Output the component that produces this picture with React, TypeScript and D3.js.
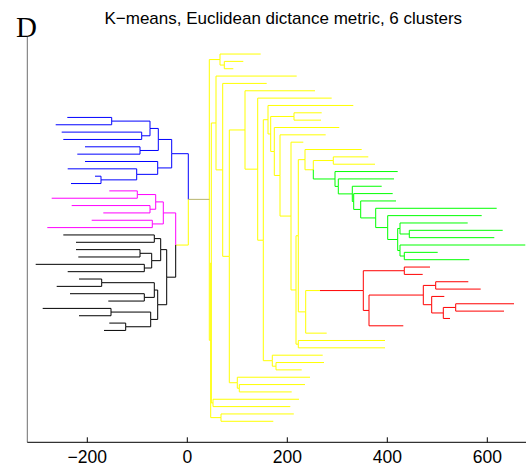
import React from "react";
import * as d3 from "d3";

const W = 526;
const H = 469;

const titleText = "K\u2212means, Euclidean dictance metric, 6 clusters";
const panelLabel = "D";
const xTicks = [-200, 0, 200, 400, 600];
const xDomain = [-320, 680];
const yDomain = [-2.32, 52.86]; // leaf rows
const LEFT_START_ROW = 8.63;

// leaf x values (in axis units), top to bottom
const yellowTopLeaves = [146.8, 112, 92, 218.8, 158.8, 255.4, 288.8, 332, 268.8, 267.4, 304, 276.8, 232, 348.8, 362, 375.4];
const greenLeaves = [420.8, 413.4, 388.8, 410.8, 417.4, 618.8, 588.8, 560.8, 630.8, 614, 676, 500.8, 564];
const redLeaves = [485.4, 470.8, 562, 586.8, 514, 653.4, 633.4, 525.4, 432];
const yellowBottomLeaves = [278.8, 395.4, 395.4, 270.8, 273.4, 228.8, 245.4, 235.4, 208.8, 223.4, 206, 213, 172];
const blueLeaves = [-240, -263.2, -251.2, -248, -204.6, -220, -204.6, -239.2, -184.6, -232.6];
const pinkLeaves = [-156, -271.2, -231.2, -168, -191.2, -280];
const blackLeaves = [-248, -222.6, -222.6, -218, -303.2, -239.2, -216.6, -261.2, -234.6, -158, -289.2, -216.6, -156, -166.6];

const COLORS: Record<string, string> = {
  Y: "#ffff00",
  G: "#00ff00",
  R: "#ff0000",
  B: "#0000ff",
  P: "#ff00ff",
  K: "#000000",
  O: "#b8b46c",
};

// internal nodes: [id, x, children, colour of the link into this node]
type NodeDef = [string, number, string[], string];
const leftNodes: NodeDef[] = [
  ["A", -151.2, ["b0", "b1"], "B"],
  ["C", -91.2, ["b2", "b3"], "B"],
  ["Bn1", -74.6, ["A", "C"], "B"],
  ["E", -94.6, ["b4", "b5"], "B"],
  ["D", -58, ["Bn1", "E"], "B"],
  ["I", -172.6, ["b8", "b9"], "B"],
  ["H", -101.2, ["b7", "I"], "B"],
  ["Gb", -59.2, ["b6", "H"], "B"],
  ["F", -31.2, ["D", "Gb"], "B"],
  ["P1", -100, ["p0", "p1"], "P"],
  ["P3", -74.6, ["p2", "p3"], "P"],
  ["P2", -63.2, ["P1", "P3"], "P"],
  ["P5", -70, ["p4", "p5"], "P"],
  ["P4", -48, ["P2", "P5"], "P"],
  ["K1", -66, ["k0", "k1"], "K"],
  ["K3", -94.6, ["k2", "k3"], "K"],
  ["K5", -86, ["k4", "k5"], "K"],
  ["K4", -71.2, ["K3", "K5"], "K"],
  ["K2", -53.2, ["K1", "K4"], "K"],
  ["K7", -171.2, ["k6", "k7"], "K"],
  ["K9", -86, ["k8", "k9"], "K"],
  ["K8", -66, ["K7", "K9"], "K"],
  ["K11", -152.6, ["k10", "k11"], "K"],
  ["K13", -123.2, ["k12", "k13"], "K"],
  ["K12", -73.2, ["K11", "K13"], "K"],
  ["K10", -59.2, ["K8", "K12"], "K"],
  ["BK", -41.2, ["K2", "K10"], "K"],
  ["PB", -23.2, ["P4", "BK"], "Y"],
  ["Lr", 2, ["F", "PB"], "O"],
];

const greenNodes: NodeDef[] = [
  ["AB", 444, ["r24", "r25"], "G"],
  ["AA", 425.4, ["r23", "AB"], "G"],
  ["BB", 434, ["r27", "r28"], "G"],
  ["CC", 425.4, ["r26", "BB"], "G"],
  ["Z", 420.8, ["AA", "CC"], "G"],
  ["Yg", 400.8, ["r22", "Z"], "G"],
  ["U", 376.8, ["r21", "Yg"], "G"],
  ["T", 346.8, ["r20", "U"], "G"],
  ["X", 332.8, ["r19", "T"], "G"],
  ["V", 330, ["r18", "X"], "G"],
  ["G1", 302, ["r17", "V"], "G"],
  ["G0", 295.4, ["r16", "G1"], "G"],
];

const redNodes: NodeDef[] = [
  ["R1", 434, ["r29", "r30"], "R"],
  ["R4", 496.8, ["r31", "r32"], "R"],
  ["R7", 536.8, ["r34", "r35"], "R"],
  ["R6", 512, ["R7", "r36"], "R"],
  ["R5", 488.8, ["r33", "R6"], "R"],
  ["R3", 472, ["R4", "R5"], "R"],
  ["R2", 363.4, ["R3", "r37"], "R"],
  ["R0", 352, ["R1", "R2"], "R"],
];

const yellowNodes: NodeDef[] = [
  ["N2", 74, ["r1", "r2"], "Y"],
  ["N1", 65.4, ["r0", "N2"], "Y"],
  ["M9a", 213.4, ["r8", "r9"], "Y"],
  ["N3", 292, ["r14", "r15"], "Y"],
  ["M17", 252, ["N3", "G0"], "Y"],
  ["M16", 235.4, ["r13", "M17"], "Y"],
  ["Ru", 265.4, ["R0"], "Y"],
  ["M18", 236.8, ["Ru", "r38"], "Y"],
  ["M15", 222, ["M16", "M18"], "Y"],
  ["M19", 222, ["r39", "r40"], "Y"],
  ["M14", 217.4, ["M15", "M19"], "Y"],
  ["M13", 207.4, ["r12", "M14"], "Y"],
  ["M12", 185.4, ["r11", "M13"], "Y"],
  ["M11", 174, ["r10", "M12"], "Y"],
  ["M10", 166.8, ["M9a", "M11"], "Y"],
  ["M9", 161.4, ["r7", "M10"], "Y"],
  ["M20a", 177.4, ["r42", "r43"], "Y"],
  ["M20", 170, ["r41", "M20a"], "Y"],
  ["M8", 152, ["M9", "M20"], "Y"],
  ["M7", 140.8, ["r6", "M8"], "Y"],
  ["M6", 115.4, ["r5", "M7"], "Y"],
  ["M21a", 104, ["r45", "r46"], "Y"],
  ["M21", 100, ["r44", "M21a"], "Y"],
  ["M5", 84, ["M6", "M21"], "Y"],
  ["M4", 70.8, ["r4", "M5"], "Y"],
  ["M3", 57.4, ["r3", "M4"], "Y"],
  ["Mb", 51.4, ["r47", "r48"], "Y"],
  ["Q1", 48, ["M3", "Mb"], "Y"],
  ["Bn", 67.4, ["r49", "r50"], "Y"],
  ["Q", 46.8, ["Q1", "Bn"], "Y"],
  ["root", 44, ["N1", "Lr", "Q"], "Y"],
];

type Pt = { x: number; y: number; color: string; children: string[] };

function buildTree() {
  const nodes: Record<string, Pt> = {};
  const right: [number[], string][] = [
    [yellowTopLeaves, "Y"],
    [greenLeaves, "G"],
    [redLeaves, "R"],
    [yellowBottomLeaves, "Y"],
  ];
  let row = 0;
  right.forEach(([arr, c]) =>
    arr.forEach((v) => {
      nodes["r" + row] = { x: v, y: row, color: c, children: [] };
      row++;
    })
  );
  const left: [number[], string, string][] = [
    [blueLeaves, "B", "b"],
    [pinkLeaves, "P", "p"],
    [blackLeaves, "K", "k"],
  ];
  let lrow = LEFT_START_ROW;
  left.forEach(([arr, c, pre]) =>
    arr.forEach((v, i) => {
      nodes[pre + i] = { x: v, y: lrow, color: c, children: [] };
      lrow++;
    })
  );
  const defs = [...leftNodes, ...greenNodes, ...redNodes, ...yellowNodes];
  defs.forEach(([id, x, ch, c]) => {
    nodes[id] = { x, y: NaN, color: c, children: ch };
  });
  const getY = (id: string): number => {
    const n = nodes[id];
    if (!isNaN(n.y)) return n.y;
    n.y = d3.mean(n.children.map(getY)) as number;
    return n.y;
  };
  getY("root");
  return nodes;
}

export default function App() {
  const left = 27.3;
  const top = 37;
  const bottom = 442.3;
  const x = d3.scaleLinear().domain(xDomain).range([left, left + 500]);
  const y = d3.scaleLinear().domain(yDomain).range([top, bottom]);

  const nodes = buildTree();
  const segs: { d: string; color: string; order: number }[] = [];
  Object.values(nodes).forEach((n) => {
    n.children.forEach((cid) => {
      const c = nodes[cid];
      const p = d3.path();
      p.moveTo(x(n.x), y(n.y));
      p.lineTo(x(n.x), y(c.y));
      p.lineTo(x(c.x), y(c.y));
      const order = c.color === "Y" ? 0 : c.color === "O" ? 2 : 1;
      segs.push({ d: p.toString(), color: COLORS[c.color], order });
    });
  });
  segs.sort((a, b) => a.order - b.order);

  return (
    <svg
      width={W}
      height={H}
      style={{ position: "absolute", left: 0, top: 0, background: "#fff" }}
      fontFamily="'Liberation Sans', Arial, sans-serif"
    >
      <rect x={0} y={0} width={W} height={H} fill="#fff" />
      <text x={283.3} y={24.3} fontSize={17} textAnchor="middle" fill="#000">
        {titleText}
      </text>
      <text x={16} y={37.3} fontSize={29} fontFamily="'Liberation Serif', 'Times New Roman', serif" fill="#000">
        {panelLabel}
      </text>
      <g fill="none" strokeWidth={1}>
        {segs.map((s, i) => (
          <path key={i} d={s.d} stroke={s.color} />
        ))}
      </g>
      <line x1={left} x2={left} y1={top} y2={bottom} stroke="#6e6e6e" strokeWidth={1} />
      <line x1={left} x2={W} y1={bottom} y2={bottom} stroke="#000" strokeWidth={1} />
      {xTicks.map((t) => (
        <g key={t}>
          <line x1={x(t)} x2={x(t)} y1={bottom} y2={bottom - 5} stroke="#000" strokeWidth={1} />
          <text x={x(t)} y={463.3} fontSize={17.5} textAnchor="middle" fill="#000">
            {t < 0 ? "\u2212" + Math.abs(t) : String(t)}
          </text>
        </g>
      ))}
    </svg>
  );
}
